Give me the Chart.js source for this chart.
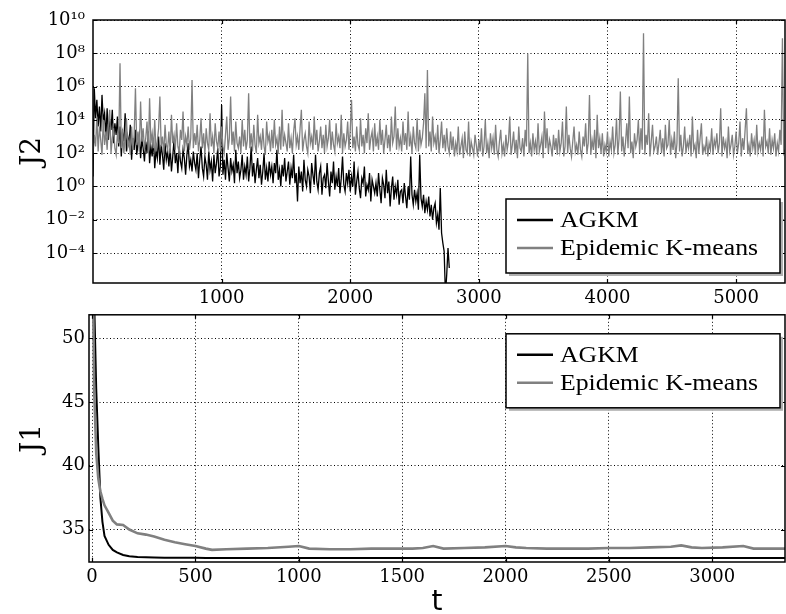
<!DOCTYPE html>
<html>
<head>
<meta charset="utf-8">
<script src="https://cdn.jsdelivr.net/npm/chart.js@4.4.1/dist/chart.umd.min.js"></script>
<style>
html, body { margin: 0; padding: 0; background: #fff; }
#wrap { position: relative; width: 786px; height: 614px; overflow: hidden; }
canvas { position: absolute; left: 0; }
#top { top: 0; }
#bottom { top: 300px; }
</style>
</head>
<body>
<div id="wrap">
<canvas id="top" width="786" height="305"></canvas>
<canvas id="bottom" width="786" height="314"></canvas>
</div>
<script>
const seriesNames = ['AGKM', 'Epidemic K-means'];
const seriesColors = ['#000000', '#808080'];

// top panel: J2, one sample every 10 iterations, written as log10(J2)
const j2Step = 10;
const j2AgkmLog = [
  0.6, 5.9, 4.1, 5.2, 3.6, 4.8, 3.3, 5.5, 3.9, 4.4, 3.0, 4.7, 2.8, 4.0, 3.4, 4.6, 2.6, 3.8, 3.1, 4.2,
  2.4, 3.6, 1.8, 3.2, 2.7, 4.4, 2.1, 3.0, 2.5, 3.7, 1.6, 2.9, 2.2, 3.4, 1.9, 2.6, 3.1, 1.7, 2.8, 2.3,
  1.5, 2.7, 2.0, 3.3, 1.4, 2.4, 1.8, 2.9, 1.1, 2.2, 1.7, 3.0, 1.3, 2.5, 1.9, 1.0, 2.6, 1.6, 2.1, 1.2,
  2.3, 0.9, 1.8, 2.8, 1.4, 2.0, 0.8, 2.4, 1.5, 1.1, 2.2, 1.7, 0.7, 1.9, 2.6, 1.2, 1.6, 0.9, 2.1, 1.4,
  1.0, 2.0, 0.5, 1.6, 2.4, 1.1, 0.6, 1.8, 1.3, 0.4, 2.1, 1.0, 1.5, 0.3, 1.9, 0.8, 1.4, 2.3, 0.6, 1.2,
  4.9, 0.7, 1.6, 0.4, 2.0, 1.1, 0.3, 1.7, 0.9, 1.3, 0.2, 2.2, 0.8, 1.5, 0.5, 1.0, 1.9, 0.4, 1.2, 0.7,
  1.8, 0.3, 1.1, 2.4, 0.6, 1.4, 0.2, 1.0, 1.7, 0.5, 1.3, 0.1, 0.9, 2.0, 0.4, 1.1, 0.3, 1.5, 0.7, 1.2,
  0.2, 1.4, 0.8, 2.2, 0.4, 1.0, 0.0, 1.3, 0.6, 1.7, 0.3, 0.9, 1.5, 0.1, 1.1, 0.5, 1.9, 0.2, 0.8, -0.9,
  1.2, 0.2, 0.9, -0.3, 1.6, 0.4, 0.0, 1.0, 0.6, -0.4, 1.4, 0.7, 0.1, 1.9, 0.3, -0.2, 0.8, 1.2, -0.5, 0.5,
  0.7, -0.1, 1.4, 0.3, -0.6, 0.9, 0.2, 1.5, -0.2, 0.6, 0.0, 1.1, -0.4, 0.5, 1.8, 0.1, -0.3, 0.8, 0.2, 1.0,
  -0.3, 0.6, 0.0, 1.5, -0.5, 0.3, 0.9, -0.1, -0.7, 0.5, 0.2, 1.2, -0.6, 0.1, -0.2, 0.8, -0.9, 0.4, 0.0, -0.4,
  0.2, -0.6, 0.8, -0.2, -1.0, 0.5, 0.1, -0.7, 1.0, -0.4, 0.3, -1.2, -0.1, 0.6, -0.8, 0.0, -0.5, 0.4, -1.1, -0.3,
  -0.2, -1.0, 0.2, -0.6, -1.3, 0.0, -0.8, 1.8, -0.5, -1.1, -0.2, -0.9, -0.4, -1.4, 1.9, -0.7, -1.2, -0.5, -1.6, -0.9,
  -1.4, -0.6, -1.8, -1.1, -2.0, -1.3, -1.0, -2.2, -1.7, -2.6, -0.1, -2.8, -3.4, -3.9, -6.5, -5.3, -3.7, -4.9
];
const j2EpidemicLog = [
  2.0, 3.1, 2.4, 4.2, 2.1, 3.6, 2.8, 1.9, 4.0, 2.5, 3.3, 2.2, 3.8, 4.6, 2.0, 2.9, 3.5, 2.3, 1.9, 3.2,
  2.6, 7.4, 2.3, 3.4, 2.0, 3.0, 4.1, 2.4, 2.8, 1.9, 3.6, 2.2, 3.1, 5.9, 2.5, 3.3, 2.1, 5.1, 2.7, 3.5,
  2.2, 2.9, 3.9, 2.0, 5.3, 2.6, 3.2, 2.3, 4.0, 2.1, 2.7, 3.5, 5.4, 2.4, 3.0, 1.9, 3.7, 2.5, 2.2, 3.3,
  2.0, 4.3, 2.6, 3.1, 2.2, 3.8, 2.4, 2.0, 3.4, 2.8, 4.5, 2.1, 3.0, 2.5, 3.6, 2.2, 2.9, 6.4, 2.3, 3.2,
  2.5, 3.7, 2.1, 2.8, 4.1, 2.3, 3.2, 1.9, 3.5, 2.6, 2.2, 4.4, 2.4, 3.0, 2.0, 3.8, 2.7, 2.3, 3.3, 2.1,
  3.6, 2.4, 2.0, 3.1, 4.2, 2.2, 2.9, 5.4, 2.5, 3.3, 2.1, 3.9, 2.6, 2.3, 3.0, 2.0, 4.0, 2.4, 3.4, 2.2,
  2.8, 5.6, 2.3, 3.2, 2.1, 3.7, 2.5, 2.0, 4.3, 2.6, 3.0, 2.2, 3.5, 2.4, 1.9, 3.9, 2.7, 3.1, 2.1, 3.4,
  2.3, 4.0, 2.5, 2.9, 2.0, 3.6, 2.2, 4.6, 2.4, 3.1, 2.6, 2.1, 3.8, 2.3, 2.9, 2.0, 3.3, 4.1, 2.5, 3.0,
  2.2, 3.5, 4.6, 2.1, 2.8, 3.2, 2.4, 2.0, 3.9, 2.6, 3.0, 2.2, 4.2, 2.5, 3.4, 2.1, 2.7, 3.6, 2.3, 3.1,
  2.0, 3.7, 2.4, 2.9, 4.0, 2.2, 3.3, 2.5, 2.1, 3.8, 2.6, 3.0, 2.3, 4.3, 2.0, 3.2, 2.4, 2.8, 3.9, 2.2,
  3.4, 5.2, 2.3, 3.0, 2.1, 3.6, 2.5, 2.2, 4.1, 2.4, 3.1, 2.0, 3.5, 2.6, 4.4, 2.2, 2.9, 3.3, 2.1, 3.8,
  2.4, 3.0, 2.2, 4.0, 2.5, 3.4, 2.0, 2.8, 3.7, 2.3, 3.1, 2.1, 4.2, 2.6, 3.0, 4.8, 2.2, 3.5, 2.4, 2.9,
  2.1, 3.9, 2.5, 3.2, 2.2, 4.5, 2.4, 3.0, 2.0, 3.6, 2.6, 2.3, 4.1, 2.1, 3.4, 2.5, 2.9, 3.8, 5.6, 2.3,
  7.0, 2.4, 3.3, 2.1, 4.2, 2.6, 3.0, 2.2, 3.7, 2.0, 2.8, 3.9, 2.3, 3.1, 2.1, 3.5, 2.4, 2.0, 3.3, 2.2,
  3.0, 1.8, 2.6, 2.1, 3.6, 1.9, 2.4, 2.9, 1.7, 3.3, 2.2, 2.0, 3.9, 1.8, 2.7, 2.3, 1.9, 3.1, 2.5, 1.8,
  2.8, 2.1, 3.5, 1.8, 2.4, 4.0, 2.0, 2.6, 1.7, 3.2, 2.3, 2.9, 1.9, 3.7, 2.2, 1.8, 2.7, 3.4, 2.0, 2.5,
  1.8, 3.1, 2.2, 2.7, 4.2, 1.9, 2.5, 3.3, 2.0, 2.8, 1.7, 3.6, 2.3, 2.1, 2.9, 1.8, 3.4, 2.4, 8.0, 2.0,
  2.6, 1.8, 3.2, 2.2, 2.7, 1.9, 3.8, 2.1, 2.5, 3.0, 1.7, 4.5, 2.3, 3.5, 2.0, 2.8, 2.4, 1.8, 3.1, 2.2,
  2.9, 1.9, 3.4, 2.1, 2.6, 3.9, 1.8, 2.4, 4.8, 2.0, 3.1, 2.3, 1.8, 2.7, 3.6, 2.1, 2.5, 1.9, 3.3, 2.2,
  1.8, 3.0, 2.4, 3.8, 2.0, 2.6, 5.5, 1.9, 2.8, 2.2, 3.4, 1.7, 4.3, 2.3, 2.9, 2.0, 3.2, 1.8, 2.5, 2.1,
  3.3, 1.8, 2.7, 2.2, 3.6, 2.0, 2.5, 4.1, 1.9, 2.9, 5.7, 2.1, 3.0, 1.8, 2.6, 3.8, 2.3, 5.4, 2.0, 2.7,
  1.7, 3.2, 2.4, 2.8, 4.0, 2.0, 3.5, 2.2, 9.2, 1.9, 3.1, 2.5, 4.4, 1.8, 2.7, 3.7, 2.1, 2.4, 3.0, 1.9,
  2.6, 3.4, 2.0, 2.9, 1.8, 3.7, 2.3, 2.5, 4.0, 1.9, 2.8, 2.2, 3.3, 1.7, 2.6, 6.5, 2.1, 3.1, 1.8, 2.4,
  3.6, 2.0, 2.7, 2.3, 3.1, 1.8, 4.2, 2.2, 2.5, 1.7, 3.4, 2.0, 2.9, 3.8, 1.9, 2.4, 2.1, 3.0, 1.8, 2.6,
  2.2, 3.5, 1.9, 2.8, 2.4, 3.2, 2.0, 2.6, 4.7, 1.8, 3.0, 2.3, 2.7, 1.7, 3.6, 2.1, 2.5, 3.1, 1.9, 2.4,
  3.3, 2.0, 2.6, 3.9, 1.8, 2.9, 2.2, 3.4, 4.7, 2.0, 2.5, 1.8, 3.2, 2.3, 2.8, 1.9, 3.7, 2.1, 2.6, 2.2,
  3.0, 1.8, 4.6, 2.4, 2.7, 2.0, 3.5, 1.9, 2.8, 2.3, 3.2, 1.8, 2.6, 2.1, 3.4, 2.5, 8.9, 2.0, 2.2, 2.7
];
const j2YTicks = [1e-4, 1e-2, 1, 1e2, 1e4, 1e6, 1e8, 1e10];
const j2XTicks = [1000, 2000, 3000, 4000, 5000];

// bottom panel: J1
const j1T = [0, 10, 20, 30, 40, 50, 60, 80, 100, 120, 150, 180, 220, 260, 300, 350, 400, 450, 500, 550,
  580, 650, 750, 850, 950, 1000, 1050, 1150, 1250, 1350, 1450, 1550, 1600, 1650, 1700, 1800, 1900, 2000,
  2050, 2100, 2200, 2300, 2400, 2500, 2600, 2700, 2800, 2850, 2900, 2950, 3050, 3150, 3200, 3300, 3360];
const j1Agkm = [60, 53, 46, 41.5, 37.5, 35.6, 34.5, 33.8, 33.4, 33.2, 33.0, 32.9, 32.85, 32.82, 32.8,
  32.79, 32.78, 32.78, 32.78, 32.77, 32.77, 32.77, 32.77, 32.77, 32.77, 32.77, 32.77, 32.77, 32.77, 32.77,
  32.77, 32.77, 32.77, 32.77, 32.77, 32.77, 32.77, 32.77, 32.77, 32.77, 32.77, 32.77, 32.77, 32.77, 32.77,
  32.77, 32.77, 32.77, 32.77, 32.77, 32.77, 32.77, 32.77, 32.77, 32.77];
const j1Epidemic = [60, 46, 41, 39, 38, 37.4, 36.9, 36.3, 35.7, 35.4, 35.35, 35.0, 34.7, 34.6, 34.45,
  34.2, 34.0, 33.85, 33.7, 33.5, 33.4, 33.45, 33.5, 33.55, 33.65, 33.7, 33.5, 33.45, 33.45, 33.5, 33.5,
  33.5, 33.55, 33.7, 33.5, 33.55, 33.6, 33.7, 33.6, 33.55, 33.5, 33.5, 33.5, 33.55, 33.55, 33.6, 33.65,
  33.75, 33.6, 33.55, 33.6, 33.7, 33.5, 33.5, 33.5];
const j1YTicks = [35, 40, 45, 50];
const j1XTicks = [0, 500, 1000, 1500, 2000, 2500, 3000];

const SUP = {'-': '\u207B', '0': '\u2070', '1': '\u00B9', '2': '\u00B2', '3': '\u00B3', '4': '\u2074',
  '5': '\u2075', '6': '\u2076', '7': '\u2077', '8': '\u2078', '9': '\u2079'};
function powLabel(v) {
  const e = Math.round(Math.log10(v));
  return '10' + String(e).split('').map(c => SUP[c]).join('');
}

// full box, inward tick marks and the boxed legend, matplotlib style
const framePlugin = {
  id: 'frame',
  afterDraw(chart, args, opts) {
    const {ctx, chartArea: a, scales} = chart;
    ctx.save();
    ctx.strokeStyle = '#000';
    ctx.lineWidth = 1.2;
    ctx.beginPath();
    scales.x.ticks.forEach(t => {
      const px = Math.round(scales.x.getPixelForValue(t.value)) + 0.5;
      ctx.moveTo(px, a.bottom); ctx.lineTo(px, a.bottom - 4);
      ctx.moveTo(px, a.top); ctx.lineTo(px, a.top + 4);
    });
    scales.y.ticks.forEach(t => {
      const py = Math.round(scales.y.getPixelForValue(t.value)) + 0.5;
      ctx.moveTo(a.left, py); ctx.lineTo(a.left + 4, py);
      ctx.moveTo(a.right, py); ctx.lineTo(a.right - 4, py);
    });
    ctx.stroke();
    ctx.lineWidth = 1.5;
    ctx.strokeRect(a.left, a.top, a.right - a.left, a.bottom - a.top);

    const w = 274, h = 74;
    const x0 = a.right - 5 - w;
    const y0 = opts.anchor === 'bottom' ? a.bottom - 10 - h : a.top + 19;
    ctx.fillStyle = '#b0b0b0';
    ctx.fillRect(x0 + 3, y0 + 3, w, h);
    ctx.fillStyle = '#fff';
    ctx.fillRect(x0, y0, w, h);
    ctx.strokeStyle = '#000';
    ctx.strokeRect(x0, y0, w, h);
    chart.data.datasets.forEach((ds, i) => {
      const y = y0 + 21 + i * 28;
      ctx.strokeStyle = ds.borderColor;
      ctx.lineWidth = 2.5;
      ctx.beginPath(); ctx.moveTo(x0 + 11, y); ctx.lineTo(x0 + 47, y); ctx.stroke();
      ctx.save();
      ctx.translate(x0 + 54, y);
      ctx.scale(1.12, 1);
      ctx.fillStyle = '#000';
      ctx.font = '23px "Liberation Serif"';
      ctx.textBaseline = 'middle';
      ctx.fillText(ds.label, 0, 1);
      ctx.restore();
    });
    ctx.restore();
  }
};

const tickFont = {family: 'DejaVu Serif', size: 18};
const grid = {color: '#000', lineWidth: 1, drawTicks: false};
const border = {display: false, dash: [1, 2.5]};
const plain = v => String(v);

new Chart(document.getElementById('top'), {
  type: 'line',
  data: {
    datasets: [
      {label: seriesNames[0], data: j2AgkmLog.map((e, i) => ({x: i * j2Step, y: Math.pow(10, e)})),
       borderColor: seriesColors[0], borderWidth: 1.3, order: 2},
      {label: seriesNames[1], data: j2EpidemicLog.map((e, i) => ({x: i * j2Step, y: Math.pow(10, e)})),
       borderColor: seriesColors[1], borderWidth: 1.3, order: 1}
    ]
  },
  options: {
    responsive: false,
    animation: false,
    devicePixelRatio: 1,
    clip: 0,
    layout: {padding: {top: 20, right: 1, left: 0, bottom: 0}},
    elements: {point: {radius: 0}, line: {tension: 0}},
    plugins: {legend: {display: false}, tooltip: {enabled: false}, frame: {anchor: 'bottom'}},
    scales: {
      x: {
        type: 'linear', min: 0, max: 5380,
        afterBuildTicks: ax => { ax.ticks = j2XTicks.map(v => ({value: v})); },
        afterFit: ax => { ax.height = 22; },
        ticks: {font: tickFont, color: '#000', padding: 5, maxRotation: 0, autoSkip: false, callback: plain},
        grid: grid, border: border
      },
      y: {
        type: 'logarithmic', min: Math.pow(10, -5.8), max: 1e10,
        afterBuildTicks: ax => { ax.ticks = j2YTicks.map(v => ({value: v})); },
        afterFit: ax => { ax.width = 93; },
        ticks: {font: tickFont, color: '#000', padding: 8, autoSkip: false, callback: v => powLabel(v)},
        grid: grid, border: border,
        title: {display: true, text: 'J2', color: '#000', font: {family: 'DejaVu Serif', size: 28}, padding: {top: 16}}
      }
    }
  },
  plugins: [framePlugin]
});

new Chart(document.getElementById('bottom'), {
  type: 'line',
  data: {
    datasets: [
      {label: seriesNames[0], data: j1T.map((t, i) => ({x: t, y: j1Agkm[i]})),
       borderColor: seriesColors[0], borderWidth: 2, order: 2},
      {label: seriesNames[1], data: j1T.map((t, i) => ({x: t, y: j1Epidemic[i]})),
       borderColor: seriesColors[1], borderWidth: 2.6, order: 1}
    ]
  },
  options: {
    responsive: false,
    animation: false,
    devicePixelRatio: 1,
    clip: 0,
    layout: {padding: {top: 10, right: 1, left: 0, bottom: 0}},
    elements: {point: {radius: 0}, line: {tension: 0}},
    plugins: {legend: {display: false}, tooltip: {enabled: false}, frame: {anchor: 'top'}},
    scales: {
      x: {
        type: 'linear', min: -15, max: 3352,
        afterBuildTicks: ax => { ax.ticks = j1XTicks.map(v => ({value: v})); },
        afterFit: ax => { ax.height = 52; },
        ticks: {font: tickFont, color: '#000', padding: 5, maxRotation: 0, autoSkip: false, callback: plain},
        grid: grid, border: border,
        title: {display: true, text: 't', color: '#000', font: {family: 'DejaVu Sans', size: 28, lineHeight: 0.8}, padding: 0}
      },
      y: {
        min: 32.45, max: 51.85,
        afterBuildTicks: ax => { ax.ticks = j1YTicks.map(v => ({value: v})); },
        afterFit: ax => { ax.width = 89; },
        ticks: {font: tickFont, color: '#000', padding: 4, autoSkip: false, callback: plain},
        grid: grid, border: border,
        title: {display: true, text: 'J1', color: '#000', font: {family: 'DejaVu Serif', size: 28}, padding: {top: 16}}
      }
    }
  },
  plugins: [framePlugin]
});
</script>
</body>
</html>
